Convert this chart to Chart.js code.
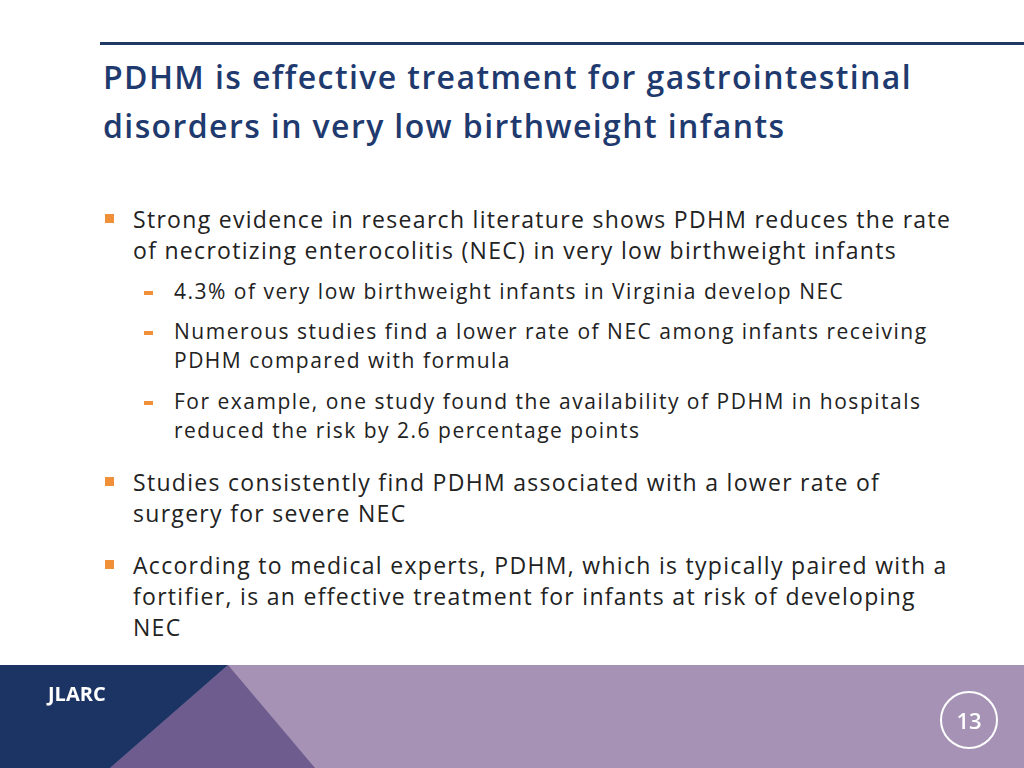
<!DOCTYPE html>
<html><head><meta charset="utf-8">
<script src="https://cdn.jsdelivr.net/npm/chart.js"></script>
<style>
html,body{margin:0;padding:0;width:1024px;height:768px;overflow:hidden;background:#fff;font-family:"Open Sans",sans-serif;}
#rule{position:absolute;left:100px;top:42px;width:924px;height:3px;background:#1f3864;}
h1{position:absolute;left:103px;top:52px;margin:0;font-size:32px;line-height:49px;font-weight:600;color:#1f3a6e;white-space:nowrap;letter-spacing:1.4px;}
.b{position:absolute;left:133px;font-size:23px;line-height:31px;color:#222;white-space:nowrap;letter-spacing:1.3px;}
.b:before{content:"";position:absolute;left:-28px;top:10px;width:9px;height:9px;background:#f0913a;}
.s{position:absolute;left:174px;font-size:21px;line-height:29px;color:#222;white-space:nowrap;letter-spacing:1.5px;}
.s:before{content:"";position:absolute;left:-30px;top:14px;width:9px;height:4px;background:#f0913a;}
#foot{position:absolute;left:0;top:665px;width:1024px;height:103px;}
#lab{position:absolute;left:48px;top:680px;color:#fff;font-weight:700;font-size:20px;}
#pg{position:absolute;left:940px;top:691px;width:54px;height:54px;border:2px solid #fff;border-radius:50%;color:#fff;font-size:22px;text-align:center;line-height:54px;font-weight:600;}
</style></head><body>
<div id="rule"></div>
<h1>PDHM is effective treatment for gastrointestinal<br>disorders in very low birthweight infants</h1>
<div class="b" style="top:204px">Strong evidence in research literature shows PDHM reduces the rate<br>of necrotizing enterocolitis (NEC) in very low birthweight infants</div>
<div class="s" id="s1" style="top:277px"></div>
<div class="s" style="top:317px">Numerous studies find a lower rate of NEC among infants receiving<br>PDHM compared with formula</div>
<div class="s" id="s3" style="top:387px"></div>
<div class="b" style="top:467px">Studies consistently find PDHM associated with a lower rate of<br>surgery for severe NEC</div>
<div class="b" style="top:550px">According to medical experts, PDHM, which is typically paired with a<br>fortifier, is an effective treatment for infants at risk of developing<br>NEC</div>
<canvas id="foot" width="1024" height="103"></canvas>
<div id="lab">JLARC</div>
<div id="pg"></div>
<script>
const necRate = [4.3];
const riskReduction = [2.6];
const pageNumber = ["13"];
document.getElementById('s1').textContent = necRate[0] + "% of very low birthweight infants in Virginia develop NEC";
document.getElementById('s3').innerHTML = "For example, one study found the availability of PDHM in hospitals<br>reduced the risk by " + riskReduction[0] + " percentage points";
document.getElementById('pg').textContent = pageNumber[0];
const footerBg = {id:'footerBg',beforeDraw(c){const g=c.ctx;const w=c.width,h=c.height;
g.save();g.fillStyle='#a592b5';g.fillRect(0,0,w,h);
g.fillStyle='#6e5c8e';g.beginPath();g.moveTo(228,0);g.lineTo(315,h);g.lineTo(110,h);g.closePath();g.fill();
g.fillStyle='#1c3464';g.beginPath();g.moveTo(0,0);g.lineTo(228,0);g.lineTo(110,h);g.lineTo(0,h);g.closePath();g.fill();
g.restore();}};
new Chart(document.getElementById('foot'),{type:'bar',data:{labels:[],datasets:[]},
options:{responsive:false,animation:false,devicePixelRatio:1,plugins:{legend:{display:false},tooltip:{enabled:false}},
scales:{x:{display:false},y:{display:false}}},plugins:[footerBg]});
</script>
</body></html>
